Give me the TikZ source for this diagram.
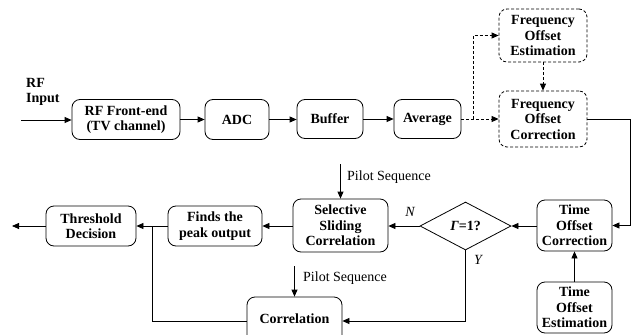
\documentclass[tikz,border=0pt]{standalone}
\usepackage{fontspec}
\setmainfont{Liberation Serif}
\usetikzlibrary{shapes.geometric,arrows.meta}
\tikzset{
  blk/.style={draw, rounded corners=8pt, line width=0.8pt, align=center, inner sep=1pt,
    font=\fontsize{14}{15.5}\selectfont\bfseries},
  dblk/.style={blk, dash pattern=on 3pt off 2pt},
  dec/.style={draw, shape=diamond, line width=0.8pt, inner sep=0pt, minimum width=91pt, minimum height=48pt,
    font=\fontsize{14}{15.5}\selectfont\bfseries},
  conn/.style={line width=0.8pt, -{Triangle[length=7pt,width=6pt]}},
  plain/.style={line width=0.8pt},
  dconn/.style={conn, dash pattern=on 3pt off 2pt},
  lbl/.style={font=\fontsize{14}{15.5}\selectfont, inner sep=0pt},
}
\begin{document}
\begin{tikzpicture}[x=1pt,y=-1pt]
\useasboundingbox (0,0) rectangle (641,335);
% top row
\node[blk, minimum width=108pt, minimum height=40pt] (rf) at (126,119.5) {RF Front-end\\(TV channel)};
\node[blk, minimum width=64pt, minimum height=40pt] (adc) at (237,119.5) {ADC};
\node[blk, minimum width=66pt, minimum height=39pt] (buf) at (330,119) {Buffer};
\node[blk, minimum width=67pt, minimum height=39pt] (avg) at (427.5,119) {Average};
\node[dblk, minimum width=88pt, minimum height=53pt] (foe) at (543,35.5) {Frequency\\Offset\\Estimation};
\node[dblk, minimum width=88pt, minimum height=56pt] (foc) at (543,119) {Frequency\\Offset\\Correction};
% bottom row
\node[blk, minimum width=75pt, minimum height=51pt] (toc) at (574.5,225.5) {Time\\Offset\\Correction};
\node[blk, minimum width=75pt, minimum height=51pt] (toe) at (574.5,307.5) {Time\\Offset\\Estimation};
\node[dec] (dia) at (465.5,226) {\textit{Γ}=1?};
\node[blk, minimum width=95pt, minimum height=53pt] (ssc) at (340.5,225.5) {Selective\\Sliding\\Correlation};
\node[blk, minimum width=94pt, minimum height=40pt] (fpk) at (215,226) {Finds the\\peak output};
\node[blk, minimum width=90pt, minimum height=40pt] (thr) at (91,226) {Threshold\\Decision};
\node[blk, minimum width=95pt, minimum height=48pt, text depth=0pt] (cor) at (294.5,321) {\raisebox{4pt}{Correlation}};
% labels
\node[lbl, font=\fontsize{14}{15.5}\selectfont\bfseries, align=left, anchor=west] (rfin) at (26,92) {RF\\Input};
\node[lbl, anchor=west] (ps1) at (347,177) {Pilot Sequence};
\node[lbl, anchor=west] (ps2) at (303,278) {Pilot Sequence};
\node[lbl, font=\fontsize{14}{15.5}\selectfont\itshape] (nl) at (410,212) {N};
\node[lbl, font=\fontsize{14}{15.5}\selectfont\itshape] (yl) at (478,260) {Y};
% coordinates
\coordinate (in) at (21,120);
\coordinate (out) at (12,226);
\coordinate (br) at (473,119);
\coordinate (rc) at (630,119);
\coordinate (p1) at (ssc.north |- 0,164);
\coordinate (p2) at (cor.north |- 0,266);
\coordinate (jn) at (152,226);
% connectors
\draw[conn] (in) -- (rf.west |- in);
\draw[conn] (rf) -- (adc);
\draw[conn] (adc) -- (buf.west |- adc);
\draw[conn] (buf) -- (avg);
\draw[dconn] (avg.east) -- (foc.west |- avg.east);
\draw[dconn] (br) |- (foe.west);
\draw[dconn] (foe) -- (foc);
\draw[conn] (foc.east |- rc) -- (rc) |- (toc.east);
\draw[conn] (toe) -- (toc);
\draw[conn] (toc.west |- dia) -- (dia.east);
\draw[conn] (dia.west) -- (ssc.east |- dia);
\draw[conn] (ssc.west |- fpk) -- (fpk.east);
\draw[conn] (fpk) -- (thr);
\draw[conn] (thr.west) -- (out);
\draw[conn] (dia.south) |- (cor.east);
\draw[plain] (cor.west) -| (jn);
\draw[conn] (p1) -- (ssc.north);
\draw[conn] (p2) -- (cor.north);
\end{tikzpicture}
\end{document}
